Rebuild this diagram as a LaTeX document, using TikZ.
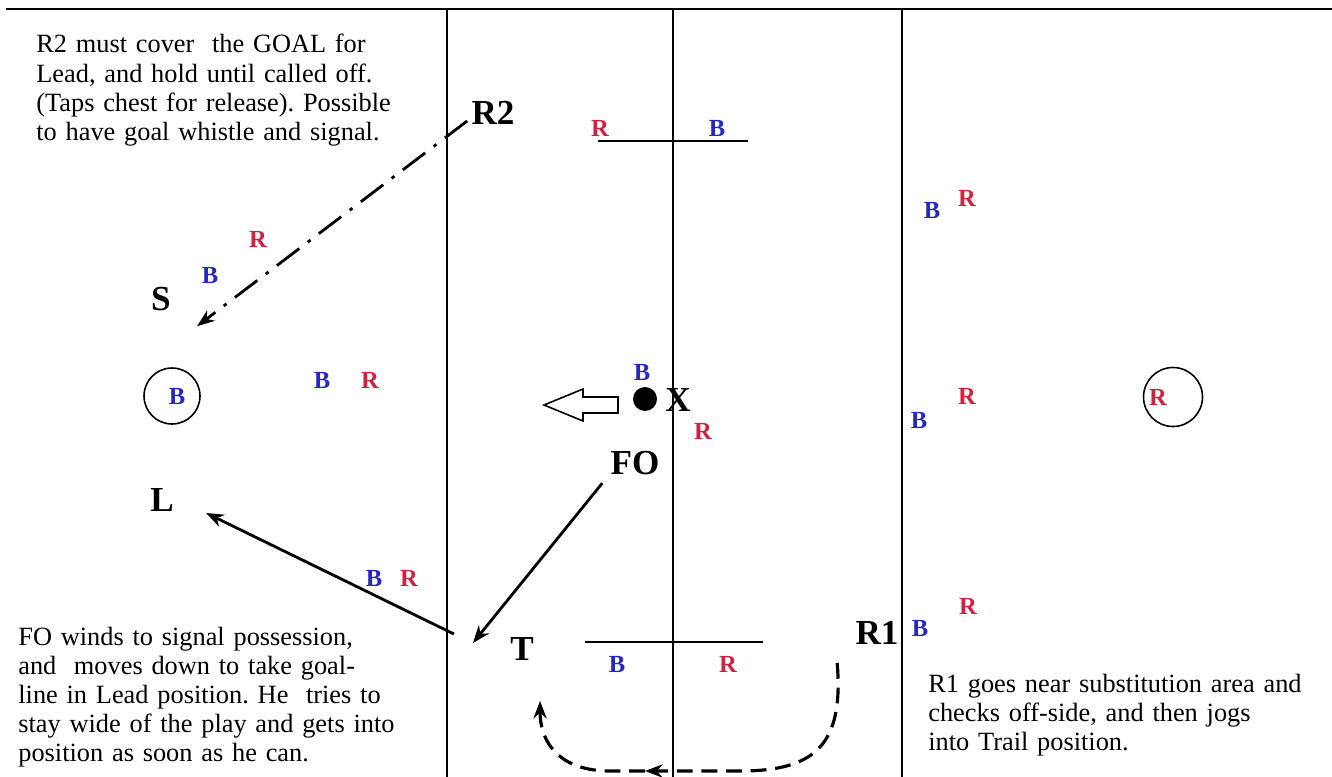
\documentclass[tikz,border=0pt]{standalone}
\usepackage{fontspec}
\setmainfont{Liberation Serif}
\usetikzlibrary{positioning, arrows.meta, calc}
\definecolor{teamblue}{RGB}{40,40,185}
\definecolor{teamred}{RGB}{205,35,65}
\frenchspacing

\begin{document}
\begin{tikzpicture}[
  x=0.02cm, y=-0.02cm,
  ref/.style={font=\fontsize{20}{24}\selectfont\bfseries, inner sep=0pt},
  bp/.style={text=teamblue, font=\fontsize{14}{16}\selectfont\bfseries, inner sep=0pt},
  rp/.style={text=teamred, font=\fontsize{14}{16}\selectfont\bfseries, inner sep=0pt},
  note/.style={font=\fontsize{15}{16.6}\selectfont, text width=8cm, align=left,
               inner sep=0pt, anchor=base west},
  field/.style={line width=0.9pt},
  crease/.style={draw, circle, line width=0.9pt, inner sep=0pt},
  run/.style={-{Stealth[length=10pt, width=7.5pt]}, line width=1.6pt},
  cover/.style={run, dash pattern=on 16pt off 6pt on 2pt off 6pt},
  jog/.style={run, line width=1.8pt, dash pattern=on 9pt off 5pt},
]
\useasboundingbox (0,0) rectangle (1332,777);

% field
\draw[line width=1.1pt] (6,9) -- (1332,9);
\draw[field] (447,9) -- (447,777);
\draw[field] (673,9) -- (673,777);
\draw[field] (902,9) -- (902,777);
\draw[field] (598,141) -- (748,141);
\draw[field] (585,642) -- (763,642);

% officials
\node[ref] (R2) at (493,113) {R2};
\node[ref] (S) at (161,299) {S};
\node[ref] (L) at (162,500) {L};
\node[ref] (FO) at (635,463) {FO};
\node[ref] (T) at (522,649) {T};
\node[ref] (R1) at (877,633) {R1};
\node[ref] (X) at (678,400) {X};

% ball, goals
\node[circle, fill, minimum size=0.48cm, inner sep=0pt] (ball) at (645,399) {};
\node[crease, minimum size=1.12cm] (goalL) at (172,396) {};
\node[crease, minimum size=1.18cm] (goalR) at (1173,397) {};

% players
\node[rp] (r1) at (600,128) {R};
\node[bp] (b1) at (717,128) {B};
\node[bp] (b2) at (932,210) {B};
\node[rp] (r2) at (967,198) {R};
\node[rp] (r3) at (258,239) {R};
\node[bp] (b3) at (210,275) {B};
\node[bp] (bg) at (177,396) {B};
\node[bp] (b4) at (322,380) {B};
\node[rp] (r4) at (370,380) {R};
\node[bp] (b5) at (642,372) {B};
\node[rp] (r5) at (703,431) {R};
\node[bp] (b6) at (919,420) {B};
\node[rp] (r6) at (967,396) {R};
\node[rp] (rg) at (1158,397) {R};
\node[bp] (b7) at (374,578) {B};
\node[rp] (r7) at (409,578) {R};
\node[rp] (r8) at (968,606) {R};
\node[bp] (b8) at (920,628) {B};
\node[bp] (b9) at (617,664) {B};
\node[rp] (r9) at (728,664) {R};

% notes
\node[note] (noteR2) at (36,53)
  {R2 must cover~ the GOAL for\\ Lead, and hold until called off.\\
   (Taps chest for release). Possible\\ to have goal whistle and signal.};
\node[note] (noteFO) at (18,645)
  {FO winds to signal possession,\\ and~ moves down to take goal-\\
   line in Lead position. He~ tries to\\ stay wide of the play and gets into\\
   position as soon as he can.};
\node[note] (noteR1) at (928,692)
  {R1 goes near substitution area and\\ checks off-side, and then jogs\\
   into Trail position.};

% possession arrow
\draw[line width=0.9pt] (544,405) -- (583,389) -- (583,397) -- (618,397)
  -- (618,413) -- (583,413) -- (583,421) -- cycle;

% movements
\coordinate (back) at (645,771);
\draw[cover] ($(R2.south west)+(-4,-4)$) -- ($(S.south east)+(26,15)$);
\draw[run] ($(FO.south west)+(-8,8)$) -- ($(T.west)+(-37,-6)$);
\draw[run] ($(T.west)+(-56,-15)$) -- ($(L.east)+(32,13)$);
\draw[jog] ($(R1.south west)+(-18,18)$) .. controls (844,745) and (815,771) .. (740,771) -- (back);
\draw[jog] (back) -- (610,771) .. controls (562,771) and (540,745) .. ($(T.south east)+(6,40)$);

\end{tikzpicture}
\end{document}
